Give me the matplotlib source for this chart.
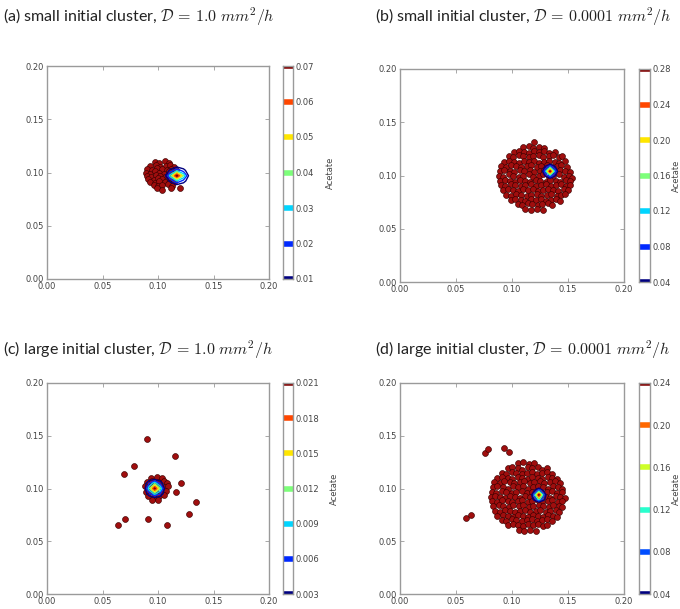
import numpy as np
import matplotlib
matplotlib.use("Agg")
import matplotlib.pyplot as plt

plt.rcParams['mathtext.fontset'] = 'cm'

# ---- data -----------------------------------------------------------------
ticks = [0.00, 0.05, 0.10, 0.15, 0.20]
tick_labels = ['0.00', '0.05', '0.10', '0.15', '0.20']

titles = [r'(a) small initial cluster, $\mathcal{D}\,=\,1.0\ mm^2/h$',
          r'(b) small initial cluster, $\mathcal{D}\,=\,0.0001\ mm^2/h$',
          r'(c) large initial cluster, $\mathcal{D}\,=\,1.0\ mm^2/h$',
          r'(d) large initial cluster, $\mathcal{D}\,=\,0.0001\ mm^2/h$']

# cell positions
cells_a_x = [0.097, 0.101, 0.106, 0.110,
             0.093, 0.098, 0.102, 0.107, 0.111, 0.114,
             0.090, 0.095, 0.099, 0.104, 0.108, 0.112, 0.116,
             0.089, 0.093, 0.097, 0.101, 0.105, 0.110, 0.113,
             0.090, 0.094, 0.098, 0.102, 0.106, 0.110,
             0.091, 0.096, 0.100, 0.104, 0.108, 0.112,
             0.093, 0.097, 0.101, 0.106, 0.110, 0.114,
             0.096, 0.100, 0.104, 0.109, 0.113,
             0.099, 0.104, 0.112, 0.120]
cells_a_y = [0.110, 0.109, 0.111, 0.109,
             0.106, 0.107, 0.105, 0.106, 0.107, 0.105,
             0.103, 0.102, 0.104, 0.103, 0.102, 0.103, 0.102,
             0.100, 0.099, 0.101, 0.100, 0.099, 0.101, 0.099,
             0.097, 0.096, 0.098, 0.097, 0.096, 0.097,
             0.094, 0.093, 0.095, 0.094, 0.093, 0.094,
             0.091, 0.090, 0.092, 0.091, 0.090, 0.091,
             0.088, 0.087, 0.088, 0.089, 0.087,
             0.085, 0.084, 0.085, 0.085]

cells_b_x = [0.110, 0.115, 0.119, 0.124, 0.129, 0.120,
             0.102, 0.106, 0.111, 0.115, 0.120, 0.124, 0.129, 0.133, 0.138,
             0.097, 0.101, 0.106, 0.110, 0.115, 0.119, 0.124, 0.128, 0.133, 0.137, 0.142, 0.145,
             0.093, 0.097, 0.102, 0.106, 0.111, 0.115, 0.120, 0.124, 0.129, 0.133, 0.138, 0.142, 0.147,
             0.090, 0.095, 0.099, 0.104, 0.108, 0.113, 0.117, 0.122, 0.126, 0.131, 0.135, 0.140, 0.144, 0.149,
             0.089, 0.093, 0.098, 0.102, 0.107, 0.111, 0.116, 0.120, 0.125, 0.129, 0.134, 0.138, 0.143, 0.147, 0.152,
             0.088, 0.092, 0.097, 0.101, 0.106, 0.110, 0.115, 0.119, 0.124, 0.128, 0.133, 0.137, 0.142, 0.146, 0.151, 0.154,
             0.089, 0.094, 0.098, 0.103, 0.107, 0.112, 0.116, 0.121, 0.125, 0.130, 0.134, 0.139, 0.143, 0.148, 0.152,
             0.090, 0.094, 0.099, 0.103, 0.108, 0.112, 0.117, 0.121, 0.126, 0.130, 0.135, 0.139, 0.144, 0.148, 0.152,
             0.092, 0.096, 0.101, 0.105, 0.110, 0.114, 0.119, 0.123, 0.128, 0.132, 0.137, 0.141, 0.146, 0.150,
             0.095, 0.099, 0.104, 0.108, 0.113, 0.117, 0.122, 0.126, 0.131, 0.135, 0.140, 0.144, 0.147,
             0.099, 0.103, 0.108, 0.112, 0.117, 0.121, 0.126, 0.130, 0.135, 0.139, 0.143,
             0.105, 0.109, 0.114, 0.118, 0.123, 0.127, 0.132, 0.136,
             0.112, 0.117, 0.122, 0.128]
cells_b_y = [0.127, 0.128, 0.126, 0.127, 0.126, 0.131,
             0.122, 0.123, 0.122, 0.121, 0.123, 0.122, 0.123, 0.121, 0.122,
             0.118, 0.117, 0.119, 0.118, 0.117, 0.118, 0.119, 0.117, 0.118, 0.119, 0.117, 0.118,
             0.113, 0.114, 0.113, 0.112, 0.114, 0.113, 0.114, 0.112, 0.113, 0.114, 0.113, 0.112, 0.114,
             0.109, 0.108, 0.110, 0.109, 0.108, 0.109, 0.110, 0.108, 0.109, 0.110, 0.108, 0.109, 0.110, 0.108,
             0.104, 0.105, 0.104, 0.103, 0.105, 0.104, 0.105, 0.103, 0.104, 0.105, 0.104, 0.103, 0.105, 0.104, 0.103,
             0.100, 0.099, 0.101, 0.100, 0.099, 0.100, 0.101, 0.099, 0.100, 0.101, 0.099, 0.100, 0.101, 0.099, 0.100, 0.098,
             0.095, 0.096, 0.095, 0.094, 0.096, 0.095, 0.094, 0.096, 0.095, 0.094, 0.096, 0.095, 0.094, 0.096, 0.095,
             0.091, 0.090, 0.092, 0.091, 0.090, 0.091, 0.092, 0.090, 0.091, 0.092, 0.090, 0.091, 0.092, 0.090, 0.091,
             0.086, 0.087, 0.086, 0.085, 0.087, 0.086, 0.087, 0.085, 0.086, 0.087, 0.086, 0.085, 0.087, 0.086,
             0.082, 0.081, 0.083, 0.082, 0.081, 0.082, 0.083, 0.081, 0.082, 0.083, 0.081, 0.082, 0.083,
             0.077, 0.078, 0.077, 0.076, 0.078, 0.077, 0.078, 0.076, 0.077, 0.078, 0.076,
             0.073, 0.072, 0.074, 0.073, 0.072, 0.073, 0.074, 0.072,
             0.069, 0.068, 0.069, 0.068]

cells_c_x = [0.094, 0.099, 0.104,
             0.090, 0.095, 0.100, 0.105, 0.108,
             0.088, 0.093, 0.097, 0.102, 0.106, 0.109,
             0.089, 0.094, 0.098, 0.103, 0.107,
             0.091, 0.096, 0.101, 0.105,
             0.095, 0.100,
             0.090, 0.115, 0.078, 0.069, 0.121, 0.116, 0.134, 0.128,
             0.070, 0.091, 0.064, 0.108]
cells_c_y = [0.110, 0.111, 0.110,
             0.106, 0.107, 0.106, 0.107, 0.105,
             0.102, 0.101, 0.103, 0.102, 0.101, 0.102,
             0.097, 0.098, 0.097, 0.096, 0.098,
             0.093, 0.092, 0.093, 0.094,
             0.089, 0.089,
             0.147, 0.131, 0.121, 0.114, 0.105, 0.097, 0.087, 0.076,
             0.071, 0.071, 0.065, 0.065]

cells_d_x = [0.105, 0.110, 0.115, 0.120,
             0.096, 0.100, 0.105, 0.109, 0.114, 0.118, 0.123, 0.127, 0.131,
             0.091, 0.095, 0.100, 0.104, 0.109, 0.113, 0.118, 0.122, 0.127, 0.131, 0.136,
             0.087, 0.091, 0.096, 0.100, 0.105, 0.109, 0.114, 0.118, 0.123, 0.127, 0.132, 0.136, 0.140,
             0.084, 0.089, 0.093, 0.098, 0.102, 0.107, 0.111, 0.116, 0.120, 0.125, 0.129, 0.134, 0.138, 0.143,
             0.083, 0.087, 0.092, 0.096, 0.101, 0.105, 0.110, 0.114, 0.119, 0.123, 0.128, 0.132, 0.137, 0.141, 0.145,
             0.082, 0.086, 0.091, 0.095, 0.100, 0.104, 0.109, 0.113, 0.118, 0.122, 0.127, 0.131, 0.136, 0.140, 0.145,
             0.081, 0.085, 0.089, 0.094, 0.098, 0.103, 0.107, 0.112, 0.116, 0.121, 0.125, 0.130, 0.134, 0.139, 0.143, 0.147,
             0.082, 0.087, 0.091, 0.096, 0.100, 0.105, 0.109, 0.114, 0.118, 0.123, 0.127, 0.132, 0.136, 0.141, 0.145,
             0.083, 0.088, 0.092, 0.097, 0.101, 0.106, 0.110, 0.115, 0.119, 0.124, 0.128, 0.133, 0.137, 0.142, 0.145,
             0.085, 0.089, 0.094, 0.098, 0.103, 0.107, 0.112, 0.116, 0.121, 0.125, 0.130, 0.134, 0.139, 0.142,
             0.087, 0.092, 0.096, 0.101, 0.105, 0.110, 0.114, 0.119, 0.123, 0.128, 0.132, 0.137, 0.140,
             0.091, 0.095, 0.100, 0.104, 0.109, 0.113, 0.118, 0.122, 0.127, 0.131, 0.136,
             0.096, 0.101, 0.105, 0.110, 0.114, 0.119, 0.123, 0.128, 0.131,
             0.106, 0.111, 0.116, 0.121,
             0.076, 0.079, 0.093, 0.097, 0.059, 0.063]
cells_d_y = [0.124, 0.125, 0.123, 0.124,
             0.119, 0.120, 0.119, 0.118, 0.120, 0.119, 0.120, 0.118, 0.119,
             0.115, 0.114, 0.116, 0.115, 0.114, 0.115, 0.116, 0.114, 0.115, 0.116, 0.114,
             0.110, 0.111, 0.110, 0.109, 0.111, 0.110, 0.109, 0.111, 0.110, 0.109, 0.111, 0.110, 0.109,
             0.106, 0.105, 0.107, 0.106, 0.105, 0.106, 0.107, 0.105, 0.106, 0.107, 0.105, 0.106, 0.107, 0.105,
             0.101, 0.102, 0.101, 0.100, 0.102, 0.101, 0.102, 0.100, 0.101, 0.102, 0.101, 0.100, 0.102, 0.101, 0.100,
             0.097, 0.096, 0.098, 0.097, 0.096, 0.097, 0.098, 0.096, 0.097, 0.098, 0.096, 0.097, 0.098, 0.096, 0.097,
             0.092, 0.093, 0.092, 0.091, 0.093, 0.092, 0.091, 0.093, 0.092, 0.091, 0.093, 0.092, 0.091, 0.093, 0.092, 0.091,
             0.088, 0.087, 0.089, 0.088, 0.087, 0.088, 0.089, 0.087, 0.088, 0.089, 0.087, 0.088, 0.089, 0.087, 0.088,
             0.083, 0.084, 0.083, 0.082, 0.084, 0.083, 0.084, 0.082, 0.083, 0.084, 0.083, 0.082, 0.084, 0.083, 0.082,
             0.079, 0.078, 0.080, 0.079, 0.078, 0.079, 0.080, 0.078, 0.079, 0.080, 0.078, 0.079, 0.080, 0.078,
             0.074, 0.075, 0.074, 0.073, 0.075, 0.074, 0.073, 0.075, 0.074, 0.073, 0.075, 0.074, 0.073,
             0.070, 0.069, 0.071, 0.070, 0.069, 0.070, 0.071, 0.069, 0.070, 0.071, 0.069,
             0.065, 0.066, 0.065, 0.064, 0.066, 0.065, 0.066, 0.064, 0.065,
             0.061, 0.060, 0.061, 0.060,
             0.134, 0.137, 0.138, 0.135, 0.072, 0.075]

# acetate concentration patches (small grids around the peak)
grid_a_x = [0.105, 0.111, 0.117, 0.123, 0.129]
grid_a_y = [0.087, 0.092, 0.097, 0.102, 0.107]
conc_a = [[0.000, 0.000, 0.000, 0.000, 0.000],
          [0.000, 0.012, 0.030, 0.015, 0.000],
          [0.000, 0.035, 0.075, 0.040, 0.000],
          [0.000, 0.012, 0.028, 0.014, 0.000],
          [0.000, 0.000, 0.000, 0.000, 0.000]]
grid_b_x = [0.126, 0.130, 0.134, 0.138, 0.142]
grid_b_y = [0.096, 0.100, 0.104, 0.108, 0.112]
conc_b = [[0.00, 0.00, 0.00, 0.00, 0.00],
          [0.00, 0.05, 0.12, 0.05, 0.00],
          [0.00, 0.12, 0.29, 0.12, 0.00],
          [0.00, 0.05, 0.12, 0.05, 0.00],
          [0.00, 0.00, 0.00, 0.00, 0.00]]
grid_c_x = [0.087, 0.092, 0.097, 0.102, 0.107]
grid_c_y = [0.090, 0.095, 0.100, 0.105, 0.110]
conc_c = [[0.000, 0.000, 0.000, 0.000, 0.000],
          [0.000, 0.005, 0.010, 0.006, 0.000],
          [0.000, 0.011, 0.022, 0.012, 0.000],
          [0.000, 0.006, 0.011, 0.005, 0.000],
          [0.000, 0.000, 0.000, 0.000, 0.000]]
grid_d_x = [0.116, 0.120, 0.124, 0.128, 0.132]
grid_d_y = [0.086, 0.090, 0.094, 0.098, 0.102]
conc_d = [[0.00, 0.00, 0.00, 0.00, 0.00],
          [0.00, 0.06, 0.14, 0.06, 0.00],
          [0.00, 0.10, 0.25, 0.10, 0.00],
          [0.00, 0.04, 0.10, 0.04, 0.00],
          [0.00, 0.00, 0.00, 0.00, 0.00]]

levels_a = [0.01, 0.02, 0.03, 0.04, 0.05, 0.06, 0.07]
levels_b = [0.04, 0.08, 0.12, 0.16, 0.20, 0.24, 0.28]
levels_c = [0.003, 0.006, 0.009, 0.012, 0.015, 0.018, 0.021]
levels_d = [0.04, 0.08, 0.12, 0.16, 0.20, 0.24]
cb_labels_a = ['0.01', '0.02', '0.03', '0.04', '0.05', '0.06', '0.07']
cb_labels_b = ['0.04', '0.08', '0.12', '0.16', '0.20', '0.24', '0.28']
cb_labels_c = ['0.003', '0.006', '0.009', '0.012', '0.015', '0.018', '0.021']
cb_labels_d = ['0.04', '0.08', '0.12', '0.16', '0.20', '0.24']

# ---- figure -----------------------------------------------------------------
W, H = 680, 609
fig = plt.figure(figsize=(W / 100, H / 100), dpi=100)


def px_axes(l, t, r, b):
    return fig.add_axes([l / W, 1 - b / H, (r - l) / W, (b - t) / H])


spine_col = '#9a9a9a'
text_col = '#444444'

panels = [
    # title pos, axes box, colorbar box, cells, field, levels, labels, label x
    ((3, 17), (47, 66, 269, 279), (283, 66, 293, 279),
     cells_a_x, cells_a_y, grid_a_x, grid_a_y, conc_a, levels_a, cb_labels_a, 330),
    ((375, 17), (400, 69, 624, 282), (639, 69, 650, 282),
     cells_b_x, cells_b_y, grid_b_x, grid_b_y, conc_b, levels_b, cb_labels_b, 676),
    ((3, 350), (47, 383, 269, 594), (283, 383, 293, 594),
     cells_c_x, cells_c_y, grid_c_x, grid_c_y, conc_c, levels_c, cb_labels_c, 334),
    ((375, 350), (400, 383, 624, 594), (639, 383, 650, 594),
     cells_d_x, cells_d_y, grid_d_x, grid_d_y, conc_d, levels_d, cb_labels_d, 676),
]

jet = plt.get_cmap('jet')

for title, (tpos, abox, cbox, cx, cy, gx, gy, conc, levels, cblabels, lab_x) in zip(titles, panels):
    fig.text(tpos[0] / W, 1 - tpos[1] / H, title, fontsize=11.5, family='Lato',
             ha='left', va='center', color='#222222')

    ax = px_axes(*abox)
    ax.scatter(cx, cy, s=18, c='#a00e0e', edgecolors='#3a0000', linewidths=0.45, zorder=2)
    cols = [jet(i / (len(levels) - 1)) for i in range(len(levels))]
    ax.contour(gx, gy, np.array(conc), levels=levels, colors=cols, linewidths=1.0, zorder=3)
    ax.set_xlim(0, 0.2)
    ax.set_ylim(0, 0.2)
    ax.set_xticks(ticks)
    ax.set_yticks(ticks)
    ax.set_xticklabels(tick_labels)
    ax.set_yticklabels(tick_labels)
    ax.tick_params(direction='in', length=3, width=0.6, color=spine_col,
                   labelsize=6, labelcolor=text_col, top=True, right=True, pad=2)
    for sp in ax.spines.values():
        sp.set_color(spine_col)
        sp.set_linewidth(1.0)

    cax = px_axes(*cbox)
    cax.set_ylim(levels[0], levels[-1])
    for lv, col in zip(levels, cols):
        cax.axhline(lv, color=col, lw=4)
    cax.set_xticks([])
    cax.set_yticks(levels)
    cax.set_yticklabels(cblabels)
    cax.yaxis.tick_right()
    cax.tick_params(length=0, labelsize=6, labelcolor=text_col, pad=2)
    for sp in cax.spines.values():
        sp.set_color(spine_col)
        sp.set_linewidth(1.0)
    mid = (cbox[1] + cbox[3]) / 2
    fig.text(lab_x / W, 1 - mid / H, 'Acetate', rotation=90, fontsize=6,
             color=text_col, ha='center', va='center')

fig.savefig('out.png', dpi=100, facecolor='white')
